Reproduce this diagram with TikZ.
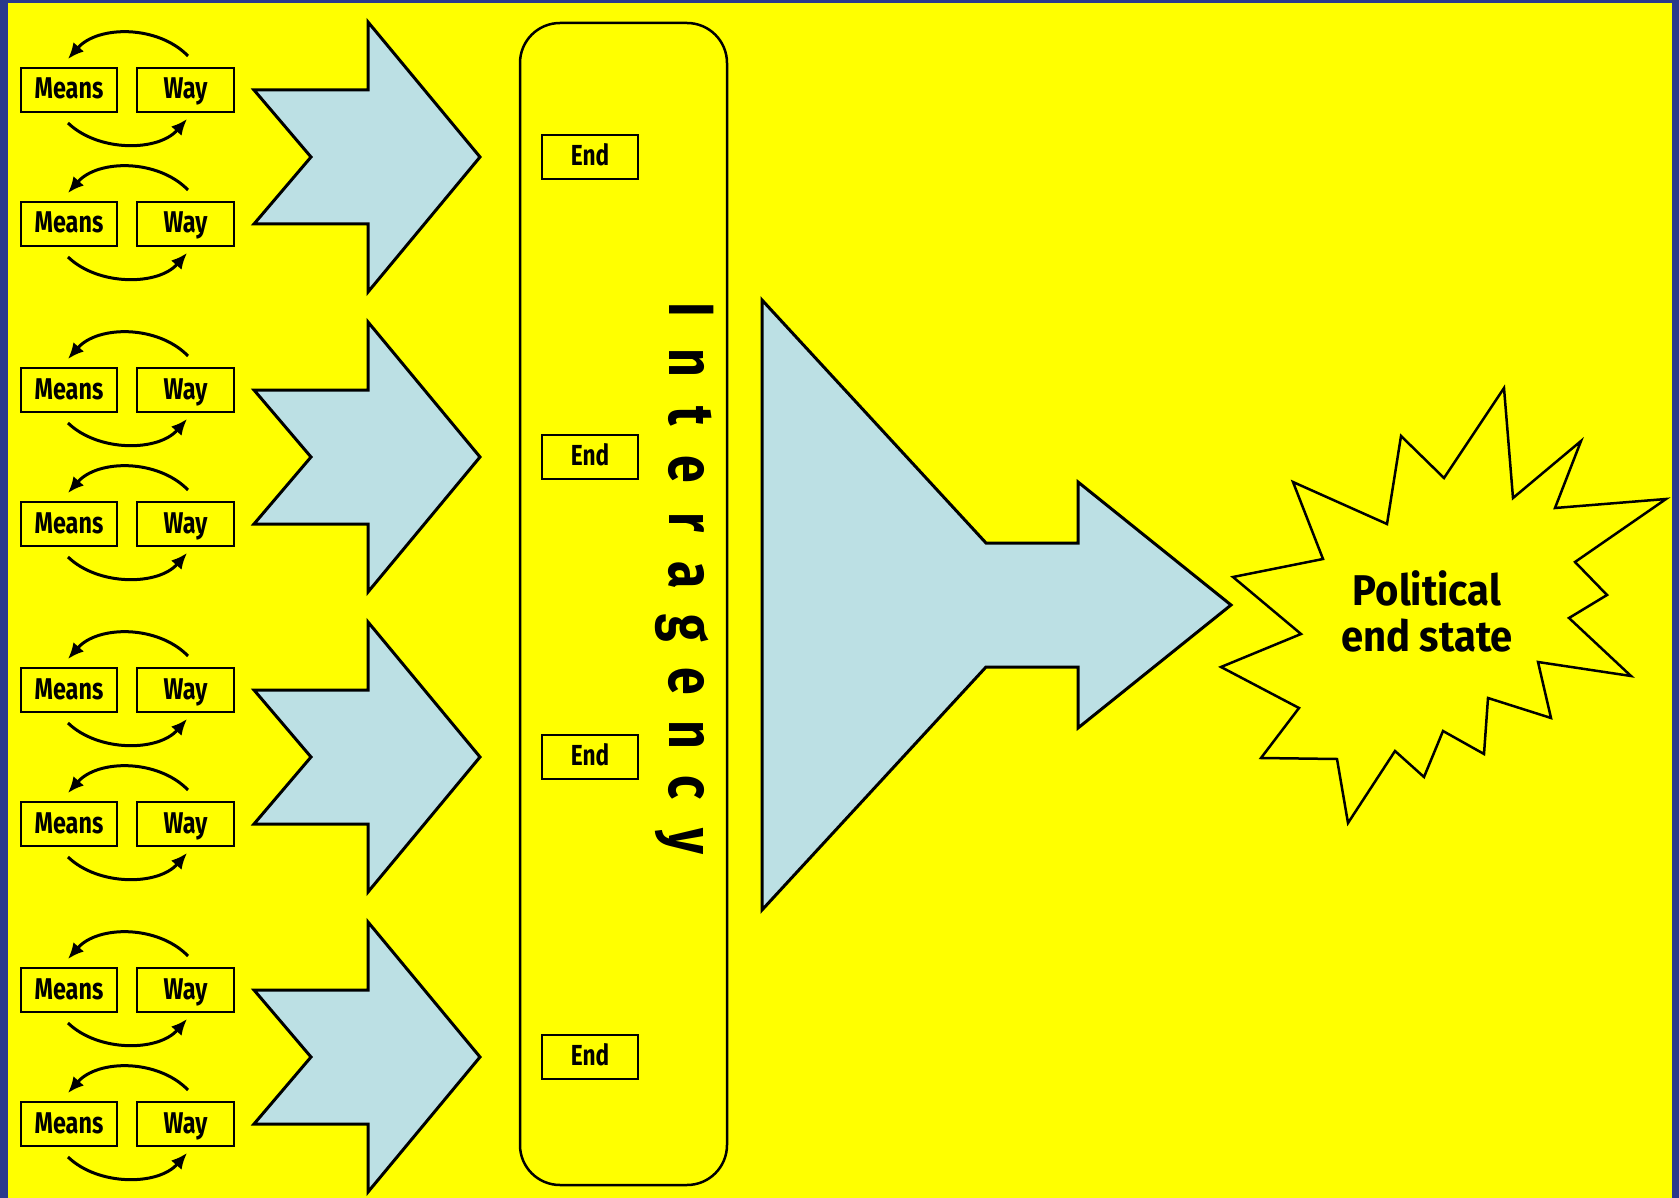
\documentclass[tikz,border=0pt]{standalone}
\usepackage{fontspec}
\setmainfont{Fira Sans}[FakeStretch=0.78]
\newfontfamily\starfont{Fira Sans}[FakeStretch=0.93]
\usetikzlibrary{arrows.meta}
\definecolor{bgblue}{RGB}{42,58,140}
\definecolor{bgyellow}{RGB}{255,255,0}
\definecolor{arrowfill}{RGB}{188,224,228}
\newcommand\lsp[1]{\makebox[53.1pt]{#1}}
\begin{document}
\begin{tikzpicture}[x=1pt,y=-1pt,
  mwbox/.style={draw,line width=2pt,fill=bgyellow,minimum width=96pt,minimum height=44pt,inner sep=0pt,text height=22pt,text depth=4pt,font=\bfseries\fontsize{30}{30}\selectfont},
  endbox/.style={draw,line width=2pt,fill=bgyellow,minimum width=96pt,minimum height=44pt,inner sep=0pt,text height=21pt,text depth=4pt,font=\bfseries\fontsize{29}{29}\selectfont},
  cyclearc/.style={line width=3pt,-{Latex[length=16pt,width=14pt]}},
  bigarrow/.style={draw,line width=3pt,fill=arrowfill,line join=miter},
  panel/.style={draw,line width=2.5pt,rounded corners=40pt,minimum width=207pt,minimum height=1162pt,inner sep=0pt},
  startext/.style={align=center,inner sep=0pt,font=\starfont\bfseries\fontsize{43}{46}\selectfont}
]
\useasboundingbox (0,0) rectangle (1679,1198);
\fill[bgblue] (0,0) rectangle (1679,1198);
\fill[bgyellow] (8,3) rectangle (1672,1198);

% interagency panel
\node[panel] (ia) at (623.5,604) {};
\node[rotate=-90,anchor=base,inner sep=0pt,font=\bfseries\fontsize{64}{64}\selectfont] (iatext) at (669,575.5)
  {\lsp{I}\lsp{n}\lsp{t}\lsp{e}\lsp{r}\lsp{a}\lsp{g}\lsp{e}\lsp{n}\lsp{c}\lsp{y}};

\foreach \g/\cy in {1/157,2/457,3/757,4/1057}{
  \draw[bigarrow] (254,\cy-67) -- (368,\cy-67) -- (368,\cy-135) -- (480,\cy) -- (368,\cy+135) -- (368,\cy+67) -- (254,\cy+67) -- (311,\cy) -- cycle;
  \node[endbox] (e\g) at (590,\cy) {End};
  \foreach \r/\dy in {a/-67,b/67}{
    \node[mwbox] (m\g\r) at (69,\cy+\dy) {Means};
    \node[mwbox,minimum width=97pt] (w\g\r) at (185.5,\cy+\dy) {Way};
    \draw[cyclearc] ([shift={(2.5,-11)}]w\g\r.north) .. controls +(-30,-31) and +(30,-34) .. ([shift={(-1,-8)}]m\g\r.north);
    \draw[cyclearc] ([shift={(-1,10)}]m\g\r.south) .. controls +(30,29) and +(-29,33) .. ([shift={(1.5,6)}]w\g\r.south);
  }
}

% funnel arrow
\draw[bigarrow] (762,300) -- (986,543) -- (1078,543) -- (1078,482) -- (1231,605) -- (1078,728) -- (1078,667) -- (986,667) -- (762,910) -- cycle;

% star
\draw[line width=2.5pt,fill=bgyellow,line join=miter] (1233,577) -- (1323,559) -- (1293,482) -- (1387,524) -- (1401,436) -- (1444,478) -- (1504,388) -- (1513,498) -- (1581,441) -- (1555,508) -- (1666,499) -- (1575,562) -- (1607,595) -- (1569,618) -- (1631,676) -- (1538,662) -- (1551,718) -- (1488,698) -- (1484,754) -- (1443,731) -- (1424,777) -- (1395,751) -- (1348,823) -- (1337,759) -- (1261,758) -- (1299,708) -- (1221,667) -- (1301,634) -- cycle;
\node[startext] (goal) at (1427,611) {Political\\end state};
\end{tikzpicture}
\end{document}
